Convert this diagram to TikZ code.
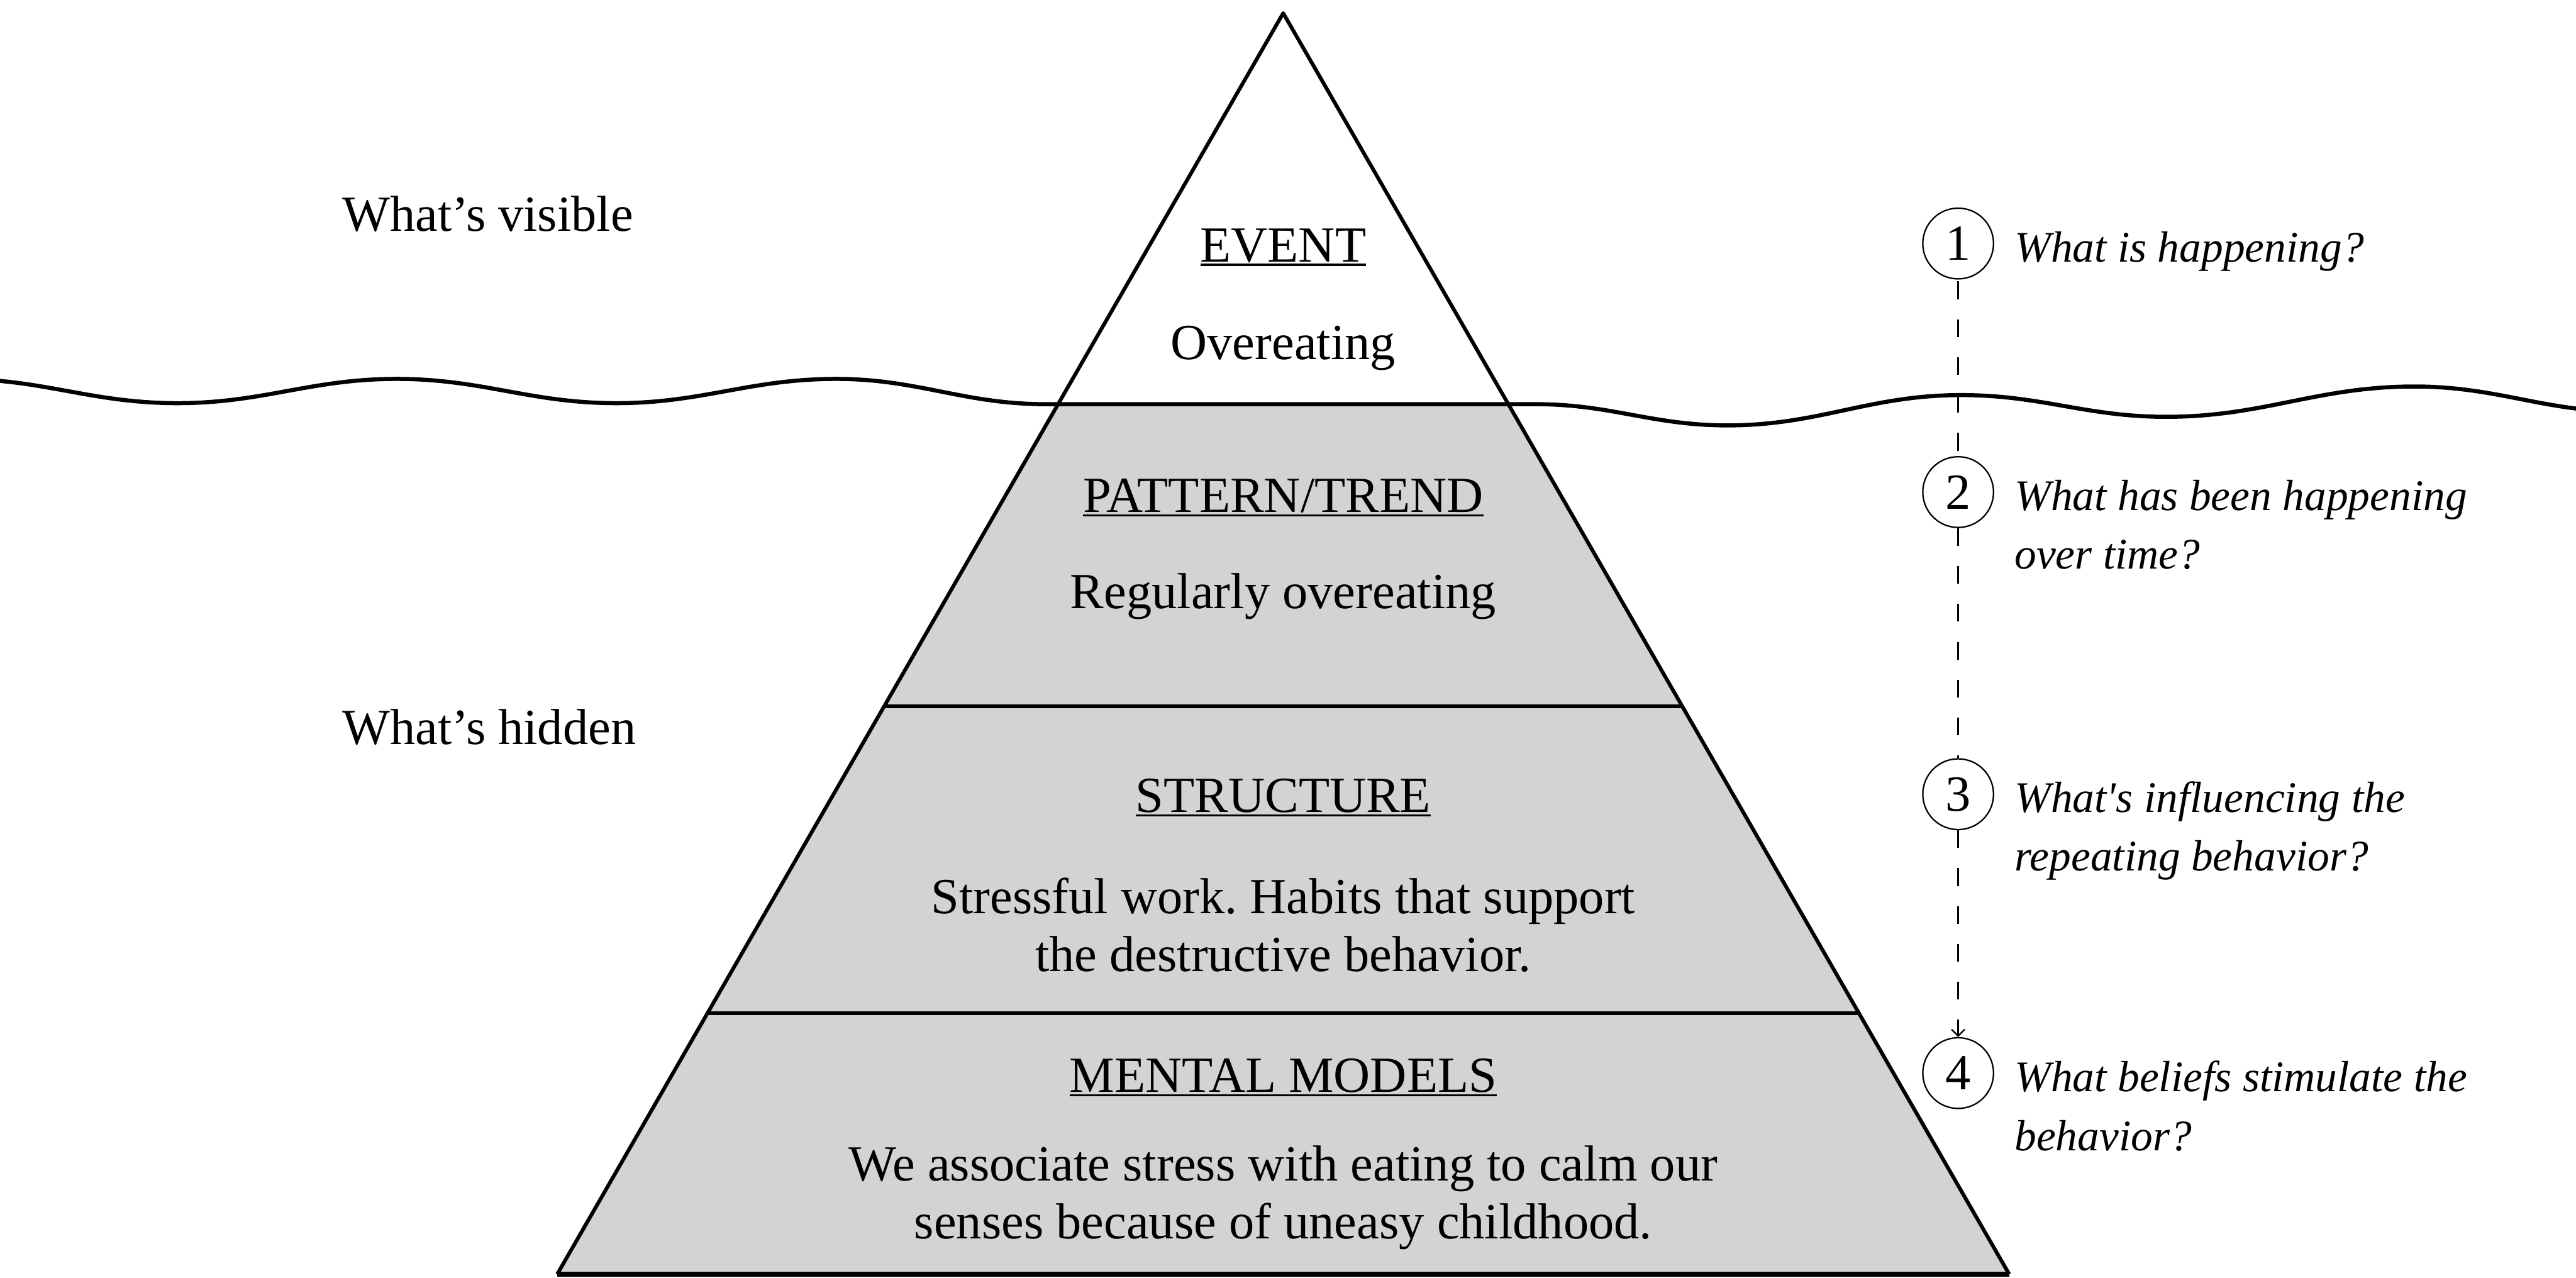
\documentclass[tikz,border=0pt]{standalone}
\usepackage{fontspec}
\setmainfont{Liberation Serif}
\newfontfamily\askfont{Liberation Serif}
\usetikzlibrary{arrows.meta}
\definecolor{hiddengray}{RGB}{210,211,213}
\def\heading#1{\setbox0\hbox{#1}\rlap{\rule[-0.08cm]{\wd0}{0.04cm}}\box0}
\frenchspacing

\begin{document}
\begin{tikzpicture}[
	edge/.style={line width=2.1pt, line join=round},
	wave/.style={line width=2.3pt},
	body/.style={font=\fontsize{28.5}{32.6}\selectfont, align=center, anchor=base, inner sep=0pt},
	side/.style={font=\fontsize{28.5}{34}\selectfont, anchor=base west, inner sep=0pt},
	question/.style={font=\askfont\itshape\fontsize{24.6}{33}\selectfont, align=left, anchor=base west, inner sep=0pt},
	number/.style={circle, draw, fill=white, line width=0.8pt, minimum size=1.4cm, inner sep=0pt, font=\fontsize{28.5}{34}\selectfont},
	link/.style={line width=0.85pt, dash pattern=on 0.35cm off 0.4cm}
	]
				\clip (0,0) rectangle (50.99,-25.29);
				
				\coordinate (apex) at (25.40,-0.26);
				\coordinate (base left) at (11.03,-25.22);
				\coordinate (base right) at (39.77,-25.22);
				
				% below the water
				\fill[hiddengray] (20.94,-8.00) -- (29.86,-8.00) -- (base right) -- (base left) -- cycle;
				
				% water line
				\draw[wave] (-0.84,-7.50) to[out=0,in=180] (3.51,-7.98) to[out=0,in=180] (7.85,-7.50)
					to[out=0,in=180] (12.20,-7.98) to[out=0,in=180] (16.55,-7.50) to[out=0,in=180] (20.70,-8.00)
					-- (30.40,-8.00) to[out=0,in=180] (34.19,-8.42) to[out=0,in=180] (38.82,-7.82)
					to[out=0,in=180] (42.88,-8.25) to[out=0,in=180] (47.79,-7.65) to[out=0,in=180] (52.00,-8.15);
				
				% pyramid
				\draw[edge] (base left) -- (apex) -- (base right);
				\draw[edge] (17.50,-13.98) -- (33.30,-13.98);
				\draw[edge] (14.00,-20.06) -- (36.80,-20.06);
				\draw[edge, line width=3pt] (base left) -- (base right);
				
				\node[body] (event) at (25.40,-5.18) {\heading{EVENT}};
				\node[body] (event text) at (25.40,-7.11) {Overeating};
				\node[body] (pattern) at (25.40,-10.14) {\heading{PATTERN/TREND}};
				\node[body] (pattern text) at (25.40,-12.05) {Regularly overeating};
				\node[body] (structure) at (25.40,-16.08) {\heading{STRUCTURE}};
				\node[body] (structure text) at (25.40,-19.23) {Stressful work. Habits that support\\the destructive behavior.};
				\node[body] (models) at (25.40,-21.62) {\heading{MENTAL MODELS}};
				\node[body] (models text) at (25.40,-24.52) {We associate stress with eating to calm our\\senses because of uneasy childhood.};
				
				\node[side] (visible) at (6.77,-4.58) {What’s visible};
				\node[side] (hidden) at (6.77,-14.73) {What’s hidden};
				
				% questions
				\draw[link] (38.76,-4.82) -- (38.76,-9.74);
				\node[number] (c1) at (38.76,-4.82) {1};
				\node[number] (c2) at (38.76,-9.74) {2};
				\node[number] (c3) at (38.76,-15.72) {3};
				\node[number] (c4) at (38.76,-21.24) {4};
				\draw[link] (c2) -- (c3);
				\draw[link, -{Straight Barb[length=0.13cm,width=0.26cm]}] (c3) -- (c4);
				
				\node[question] (q1) at (39.87,-5.18) {What is happening?};
				\node[question] (q2) at (39.87,-11.26) {What has been happening\\over time?};
				\node[question] (q3) at (39.87,-17.24) {What's influencing the\\repeating behavior?};
				\node[question] (q4) at (39.87,-22.77) {What beliefs stimulate the\\behavior?};
			\end{tikzpicture}
\end{document}
